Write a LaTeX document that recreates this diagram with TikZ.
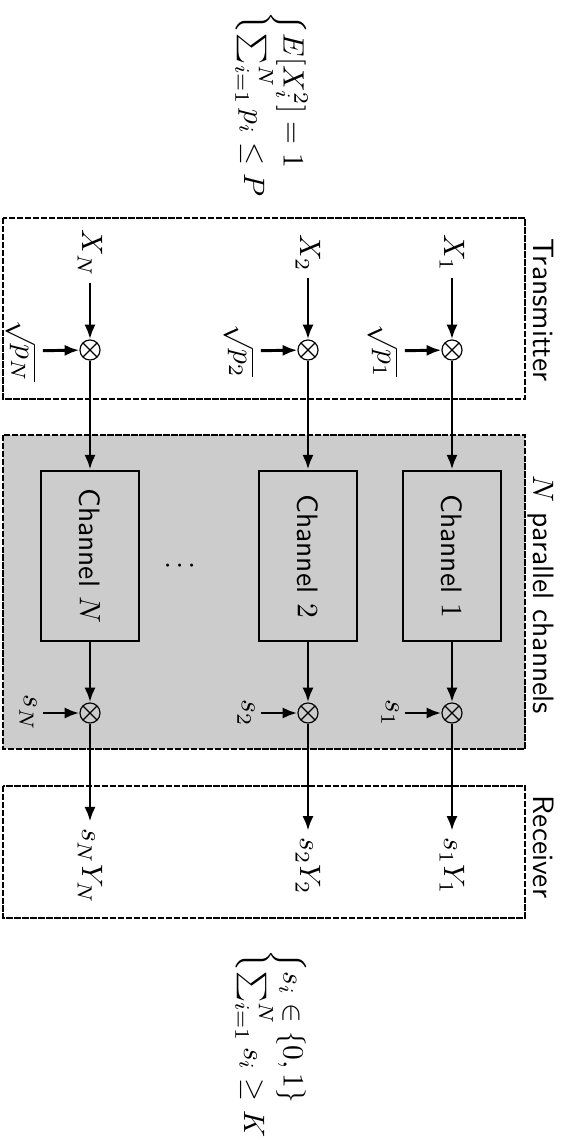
\documentclass[tikz,border=0pt]{standalone}
\usetikzlibrary{arrows.meta}
\begin{document}
\begin{tikzpicture}[x=0.339pt, y=-0.339pt,
  conn/.style={line width=1pt, -{Latex[length=5pt,width=3.8pt]}},
  mult/.style={circle, draw, line width=0.4pt, minimum size=6.8pt, inner sep=0pt,
    path picture={\draw[line width=0.4pt] (path picture bounding box.north west) -- (path picture bounding box.south east)
                  (path picture bounding box.north east) -- (path picture bounding box.south west);}},
  lbl/.style={rotate=-90, inner sep=2pt},
  chan/.style={rotate=-90, draw, line width=0.95pt, fill=gray!40, minimum width=57.6pt,
    minimum height=33.2pt, inner sep=0pt, font=\sffamily},
  grp/.style={line width=0.9pt, dash pattern=on 2.2pt off 0.5pt},
  title/.style={rotate=-90, font=\sffamily, inner sep=0pt, anchor=base},
]
\useasboundingbox (0,0) rectangle (565,1140);

% group boxes
\draw[grp] (3,218) rectangle (525,399);
\draw[grp, fill=gray!40] (3,435) rectangle (525,749);
\draw[grp] (3,786) rectangle (525,918);

\node[title] (tx) at (533,310) {Transmitter};
\node[title] (chs) at (533,595) {$N$ parallel channels};
\node[title] (rx) at (533,847) {Receiver};

% constraints
\node[lbl] (ctop) at (271,106) {$\left\{\begin{array}{@{}l@{}} E[X_i^2]=1\\ \sum_{i=1}^N p_i\le P\end{array}\right.$};
\node[lbl] (cbot) at (271,1045) {$\left\{\begin{array}{@{}l@{}} s_i\in\{0,1\}\\ \sum_{i=1}^N s_i\ge K\end{array}\right.$};

% branches
\foreach \c/\i/\cx in {1/1/452, 2/2/308, N/N/90}{
  \node[lbl] (x\c) at (\cx,253) {$X_{\i}$};
  \node[mult] (ma\c) at (\cx,350) {};
  \node[lbl] (p\c) at (\cx-69,351) {$\sqrt{p_{\i}}$};
  \node[chan] (ch\c) at (\cx,556) {Channel $\i$};
  \node[mult] (mb\c) at (\cx,713) {};
  \node[lbl] (s\c) at (\cx-62,713) {$s_{\i}$};
  \node[lbl] (y\c) at (\cx,866) {$s_{\i}Y_{\i}$};
  \draw[conn] (x\c) -- (ma\c);
  \draw[conn] (p\c) -- (ma\c);
  \draw[conn] (ma\c) -- (ch\c.west);
  \draw[conn] (ch\c.east) -- (mb\c);
  \draw[conn] (s\c) -- (mb\c);
  \draw[conn] (mb\c) -- (y\c);
}

\node[lbl] (dots) at (189,566) {$\vdots$};
\end{tikzpicture}
\end{document}
